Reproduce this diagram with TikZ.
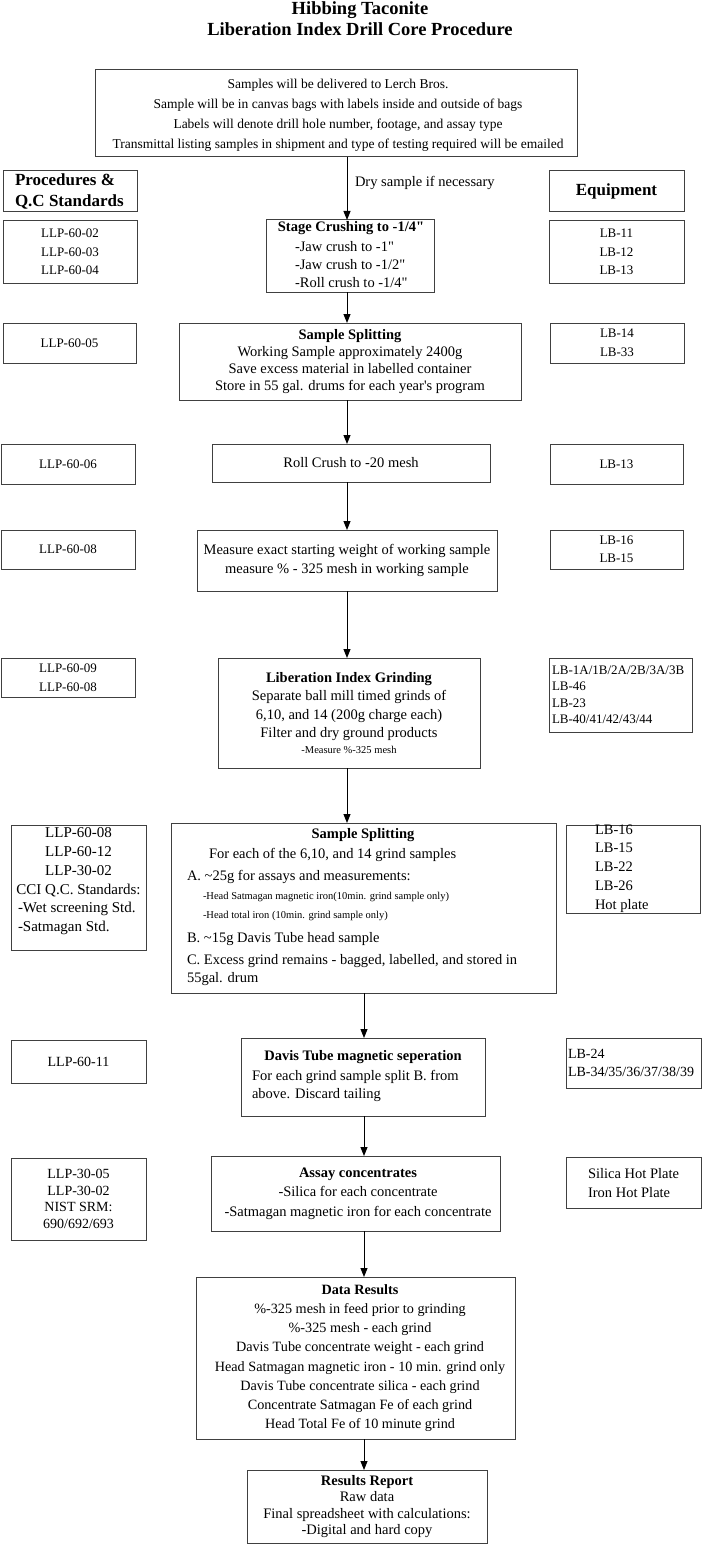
\documentclass[tikz,border=0pt]{standalone}
\usepackage{fontspec}
\setmainfont{Liberation Serif}[Ligatures=TeXOff]
\usetikzlibrary{arrows.meta}
\newcommand\fsz[2]{\fontsize{#1}{#2}\selectfont}
\begin{document}
\begin{tikzpicture}[x=1pt,y=-1pt,
  bx/.style={draw=black!75, line width=1pt, inner sep=0pt, outer sep=0pt, align=center},
  tx/.style={inner sep=0pt, outer sep=0pt},
  arr/.style={-{Triangle[length=9pt,width=7pt]}, line width=1pt, black},
  nrm/.style={font=\fsz{14.5}{19}},
  lst/.style={font=\fsz{13}{18.5}},
  hdr/.style={font=\bfseries\fsz{17}{21}}]
\useasboundingbox (0,0) rectangle (702,1546);
\fill[white] (0,0) rectangle (702,1546);

% title
\node[tx, align=center, font=\bfseries\fsz{18.5}{21}] (title) at (360,18.5)
  {Hibbing Taconite\\Liberation Index Drill Core Procedure};

% top box
\node[bx, minimum width=482, minimum height=87] (top) at (336,113.5) {};
\node[tx, align=center, font=\fsz{13.5}{20}] (topt) at (338,115)
  {Samples will be delivered to Lerch Bros.\\Sample will be in canvas bags with labels inside and outside of bags\\Labels will denote drill hole number, footage, and assay type\\Transmittal listing samples in shipment and type of testing required will be emailed};

% headers
\node[bx, minimum width=134, minimum height=41] (proc) at (70,191.5) {};
\node[tx, hdr, align=left, anchor=west] (proct) at (15,191.5) {Procedures \&\\Q.C Standards};
\node[bx, hdr, minimum width=135, minimum height=41] (equip) at (616.5,191.5) {Equipment};

% row 1
\node[bx, minimum width=168, minimum height=72] (stage) at (350,256) {};
\node[tx, font=\bfseries\fsz{14.5}{18}] (staget) at (351,228.5) {Stage Crushing to -1/4"};
\node[tx, align=left, anchor=west, font=\fsz{14.5}{18.3}] (stagel) at (295,264.5)
  {-Jaw crush to -1"\\-Jaw crush to -1/2"\\-Roll crush to -1/4"};
\node[bx, lst, minimum width=134, minimum height=62] (llp1) at (70,252) {LLP-60-02\\LLP-60-03\\LLP-60-04};
\node[bx, lst, minimum width=135, minimum height=62] (lb1) at (616.5,252) {LB-11\\LB-12\\LB-13};

% row 2
\node[bx, minimum width=342, minimum height=77, font=\fsz{14.5}{16.8}] (split1) at (350,361.5)
  {\textbf{Sample Splitting}\\Working Sample approximately 2400g\\Save excess material in labelled container\\Store in 55 gal. drums for each year's program};
\node[bx, lst, minimum width=133, minimum height=40] (llp2) at (69.5,343) {LLP-60-05};
\node[bx, lst, minimum width=134, minimum height=40] (lb2) at (617,343) {LB-14\\LB-33};

% row 3
\node[bx, nrm, minimum width=278, minimum height=38] (roll) at (351,463) {Roll Crush to -20 mesh};
\node[bx, lst, minimum width=134, minimum height=40] (llp3) at (68,464) {LLP-60-06};
\node[bx, lst, minimum width=133, minimum height=40] (lb3) at (616.5,464) {LB-13};

% row 4
\node[bx, nrm, minimum width=300, minimum height=61] (measure) at (347,560.5)
  {Measure exact starting weight of working sample\\measure \% - 325 mesh in working sample};
\node[bx, lst, minimum width=134, minimum height=39] (llp4) at (68,549.5) {LLP-60-08};
\node[bx, lst, minimum width=133, minimum height=39] (lb4) at (616.5,549.5) {LB-16\\LB-15};

% row 5
\node[bx, minimum width=262, minimum height=110, font=\fsz{14.5}{18.5}] (grind) at (349,713)
  {\textbf{Liberation Index Grinding}\\Separate ball mill timed grinds of\\6,10, and 14 (200g charge each)\\Filter and dry ground products\\[-3pt]{\fsz{10.5}{13}-Measure \%-325 mesh}};
\node[bx, lst, minimum width=134, minimum height=39] (llp5) at (68,677.5) {LLP-60-09\\LLP-60-08};
\node[bx, minimum width=143, minimum height=74] (lb5) at (620.5,695) {};
\node[tx, align=left, anchor=west, font=\fsz{13}{16.5}] (lb5t) at (552,695)
  {LB-1A/1B/2A/2B/3A/3B\\LB-46\\LB-23\\LB-40/41/42/43/44};

% row 6
\node[bx, minimum width=385, minimum height=170] (split2) at (363.5,908) {};
\node[tx, font=\bfseries\fsz{14.5}{18}] (s2a) at (363,835) {Sample Splitting};
\node[tx, nrm, anchor=west] (s2b) at (209,855) {For each of the 6,10, and 14 grind samples};
\node[tx, nrm, anchor=west] (s2c) at (187,877) {A. \textasciitilde25g for assays and measurements:};
\node[tx, anchor=west, font=\fsz{10.5}{13}] (s2d) at (203,897) {-Head Satmagan magnetic iron(10min. grind sample only)};
\node[tx, anchor=west, font=\fsz{10.5}{13}] (s2e) at (203,916) {-Head total iron (10min. grind sample only)};
\node[tx, nrm, anchor=west] (s2f) at (187,939) {B. \textasciitilde15g Davis Tube head sample};
\node[tx, anchor=west, align=left, font=\fsz{14.5}{18.5}] (s2g) at (187,970) {C. Excess grind remains - bagged, labelled, and stored in\\55gal. drum};
\node[bx, minimum width=135, minimum height=125] (llp6) at (78.5,887.5) {};
\node[tx, align=center, font=\fsz{15}{19}] (llp6a) at (78.5,862) {LLP-60-08\\LLP-60-12\\LLP-30-02\\CCI Q.C. Standards:};
\node[tx, align=left, anchor=west, font=\fsz{15}{19.5}] (llp6b) at (18,918.5) {-Wet screening Std.\\-Satmagan Std.};
\node[bx, minimum width=134, minimum height=88] (lb6) at (633,869) {};
\node[tx, align=left, anchor=west, font=\fsz{14.5}{18.8}] (lb6t) at (595,868.5) {LB-16\\LB-15\\LB-22\\LB-26\\Hot plate};

% row 7
\node[bx, minimum width=244, minimum height=78] (davis) at (363,1077) {};
\node[tx, font=\bfseries\fsz{14.5}{18}] (davt) at (363,1057) {Davis Tube magnetic seperation};
\node[tx, align=left, anchor=west, font=\fsz{14.5}{18}] (davb) at (252,1085.5) {For each grind sample split B. from\\above. Discard tailing};
\node[bx, font=\fsz{14}{18}, minimum width=135, minimum height=43] (llp7) at (78.5,1061.5) {LLP-60-11};
\node[bx, minimum width=135, minimum height=50] (lb7) at (633.5,1063) {};
\node[tx, align=left, anchor=west, font=\fsz{14}{18}] (lb7t) at (568,1063) {LB-24\\LB-34/35/36/37/38/39};

% row 8
\node[bx, minimum width=289, minimum height=75] (assay) at (355.5,1193.5) {};
\node[tx, align=center, font=\fsz{14.5}{19.5}] (assayt) at (358,1193.5)
  {\textbf{Assay concentrates}\\-Silica for each concentrate\\-Satmagan magnetic iron for each concentrate};
\node[bx, minimum width=135, minimum height=82, font=\fsz{14}{16.5}] (llp8) at (78.5,1199)
  {LLP-30-05\\LLP-30-02\\NIST SRM:\\690/692/693};
\node[bx, minimum width=135, minimum height=51] (lb8) at (633.5,1182.5) {};
\node[tx, align=left, anchor=west, font=\fsz{14.5}{19}] (lb8t) at (588,1183.5) {Silica Hot Plate\\Iron Hot Plate};

% data results
\node[bx, minimum width=319, minimum height=162] (data) at (355.5,1358) {};
\node[tx, align=center, font=\fsz{14.2}{19.2}] (datat) at (360,1358)
  {\textbf{Data Results}\\\%-325 mesh in feed prior to grinding\\\%-325 mesh - each grind\\Davis Tube concentrate weight - each grind\\Head Satmagan magnetic iron - 10 min. grind only\\Davis Tube concentrate silica - each grind\\Concentrate Satmagan Fe of each grind\\Head Total Fe of 10 minute grind};

% results report
\node[bx, minimum width=240, minimum height=73, font=\fsz{14.5}{16.5}] (report) at (367,1506.5)
  {\textbf{Results Report}\\Raw data\\Final spreadsheet with calculations:\\-Digital and hard copy};

% arrows
\coordinate (ax1) at (347,0);
\coordinate (ax2) at (364,0);
\draw[arr] (top.south -| ax1) -- (stage.north -| ax1);
\node[tx, nrm, anchor=west] (dry) at (355,183) {Dry sample if necessary};
\draw[arr] (stage.south -| ax1) -- (split1.north -| ax1);
\draw[arr] (split1.south -| ax1) -- (roll.north -| ax1);
\draw[arr] (roll.south -| ax1) -- (measure.north -| ax1);
\draw[arr] (measure.south -| ax1) -- (grind.north -| ax1);
\draw[arr] (grind.south -| ax1) -- (split2.north -| ax1);
\draw[arr] (split2.south -| ax2) -- (davis.north -| ax2);
\draw[arr] (davis.south -| ax2) -- (assay.north -| ax2);
\draw[arr] (assay.south -| ax2) -- (data.north -| ax2);
\draw[arr] (data.south -| ax2) -- (report.north -| ax2);
\end{tikzpicture}
\end{document}
